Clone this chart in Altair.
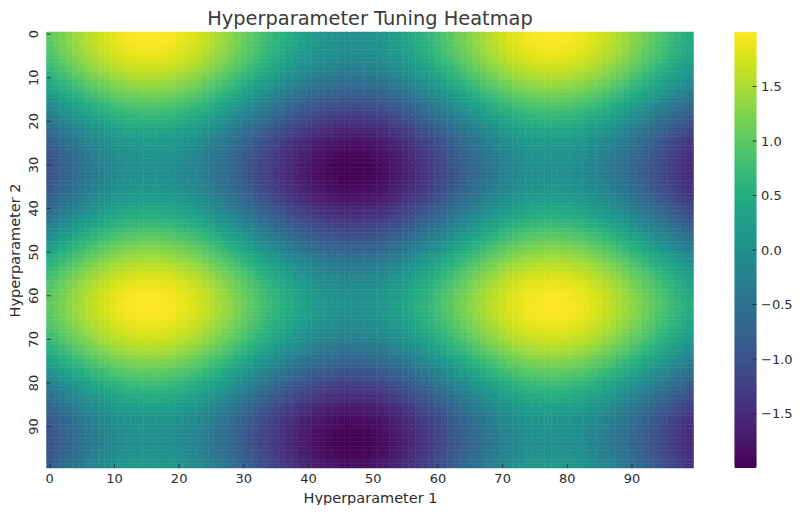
import altair as alt
import pandas as pd

alt.data_transformers.disable_max_rows()

# Estimated by eye: peaks/troughs, smooth wave shape hand-rounded between them.
column_profile = [
    0.00, 0.10, 0.20, 0.30, 0.39, 0.48, 0.57, 0.65, 0.72, 0.79,
    0.85, 0.90, 0.94, 0.97, 0.99, 1.00, 1.00, 0.99, 0.97, 0.94,
    0.90, 0.85, 0.80, 0.73, 0.66, 0.58, 0.49, 0.40, 0.31, 0.21,
    0.11, 0.01, -0.09, -0.19, -0.29, -0.38, -0.47, -0.56, -0.64, -0.72,
    -0.78, -0.84, -0.89, -0.93, -0.96, -0.99, -1.00, -1.00, -0.99, -0.97,
    -0.94, -0.91, -0.86, -0.80, -0.74, -0.66, -0.58, -0.50, -0.41, -0.32,
    -0.22, -0.12, -0.02, 0.08, 0.18, 0.28, 0.37, 0.47, 0.55, 0.63,
    0.71, 0.78, 0.84, 0.89, 0.93, 0.96, 0.98, 1.00, 1.00, 0.99,
    0.97, 0.94, 0.91, 0.86, 0.81, 0.74, 0.67, 0.59, 0.51, 0.42,
    0.32, 0.23, 0.13, 0.03, -0.07, -0.17, -0.27, -0.37, -0.46, -0.54,
]
row_profile = [
    1.00, 0.99, 0.98, 0.95, 0.92, 0.88, 0.82, 0.76, 0.69, 0.61,
    0.53, 0.44, 0.35, 0.26, 0.16, 0.05, -0.05, -0.15, -0.25, -0.34,
    -0.43, -0.52, -0.61, -0.68, -0.75, -0.82, -0.87, -0.92, -0.95, -0.98,
    -0.99, -1.00, -1.00, -0.98, -0.96, -0.92, -0.88, -0.83, -0.77, -0.69,
    -0.62, -0.54, -0.45, -0.36, -0.27, -0.16, -0.06, 0.04, 0.14, 0.24,
    0.33, 0.42, 0.51, 0.60, 0.67, 0.75, 0.81, 0.87, 0.91, 0.95,
    0.98, 0.99, 1.00, 1.00, 0.98, 0.96, 0.92, 0.88, 0.83, 0.77,
    0.71, 0.63, 0.55, 0.46, 0.37, 0.27, 0.17, 0.07, -0.03, -0.13,
    -0.23, -0.33, -0.42, -0.51, -0.59, -0.67, -0.74, -0.81, -0.86, -0.91,
    -0.94, -0.97, -0.99, -1.00, -1.00, -0.98, -0.96, -0.93, -0.89, -0.84,
]
axis_ticks = [0, 10, 20, 30, 40, 50, 60, 70, 80, 90]
bar_ticks = [-1.5, -1.0, -0.5, 0.0, 0.5, 1.0, 1.5]

INK = "#2b2b2b"
FONT = "DejaVu Sans"
LABEL_SIZE = 13
TITLE_SIZE = 14.5

cells = pd.DataFrame(
    [
        {"x": i, "y": j, "z": round(c + r, 2)}
        for i, c in enumerate(column_profile)
        for j, r in enumerate(row_profile)
    ]
)
zmin, zmax = float(cells.z.min()), float(cells.z.max())
color_scale = alt.Scale(scheme="viridis", domain=[zmin, zmax])

x_axis = alt.Axis(values=axis_ticks, labelAngle=0, tickSize=0, domain=False, grid=False,
                  title="Hyperparameter 1", labelPadding=4, titlePadding=6,
                  labelOverlap=False, labelFontSize=LABEL_SIZE, titleFontSize=TITLE_SIZE)
y_axis = alt.Axis(values=axis_ticks, labels=False, tickSize=0, domain=False, grid=False,
                  title="Hyperparameter 2", titlePadding=24, titleFontSize=TITLE_SIZE)
band = alt.Scale(paddingInner=0, paddingOuter=0)

heat = alt.Chart(cells).mark_rect(strokeWidth=0.5).encode(
    x=alt.X("x:O", scale=band, axis=x_axis),
    y=alt.Y("y:O", scale=band, axis=y_axis),
    color=alt.Color("z:Q", scale=color_scale, legend=None),
    stroke=alt.Color("z:Q", scale=color_scale, legend=None),
)
ticks_df = pd.DataFrame({"x": axis_ticks, "y": axis_ticks})
x_ticks = alt.Chart(ticks_df).mark_rule(color=INK, strokeWidth=0.9).encode(
    x=alt.X("x:O", bandPosition=0.5, scale=band, axis=x_axis), y=alt.value(432), y2=alt.value(436)
)
y_ticks = alt.Chart(ticks_df).mark_rule(color=INK, strokeWidth=0.9).encode(
    y=alt.Y("y:O", bandPosition=0.5, scale=band, axis=y_axis), x=alt.value(0), x2=alt.value(4)
)
y_labels = alt.Chart(ticks_df).mark_text(
    angle=270, align="center", baseline="middle", font=FONT, fontSize=LABEL_SIZE, color=INK
).encode(
    y=alt.Y("y:O", scale=band, axis=y_axis), x=alt.value(-13), text="y:O"
)
main = alt.layer(heat, x_ticks, y_ticks, y_labels).properties(
    width=647, height=436,
    title=alt.TitleParams("Hyperparameter Tuning Heatmap", fontSize=19.4, font=FONT,
                          color="#3a3a3a", fontWeight="normal", offset=1),
)

# Colour bar: its levels are the distinct values of the heatmap itself.
levels = pd.DataFrame({"v": sorted(cells.z.unique())})
levels["v2"] = levels.v + 0.03
bar_scale = alt.Scale(domain=[zmin, zmax], nice=False, zero=False)
bar_axis = alt.Axis(orient="right", values=bar_ticks, tickSize=0, domain=False, grid=False,
                    title=None, labelPadding=4, format=".1f", labelOverlap=False,
                    labelFontSize=LABEL_SIZE, labelExpr="replace(datum.label, '-', '\u2212')")
bar = alt.Chart(levels).mark_rect(strokeWidth=0, clip=True).encode(
    x=alt.value(0), x2=alt.value(22),
    y=alt.Y("v:Q", scale=bar_scale, axis=bar_axis), y2="v2:Q",
    color=alt.Color("v:Q", scale=color_scale, legend=None),
)
bar_tick_df = pd.DataFrame({"v": bar_ticks})
bar_marks = alt.Chart(bar_tick_df).mark_rule(color=INK, strokeWidth=0.9).encode(
    y=alt.Y("v:Q", scale=bar_scale, axis=bar_axis),
    x=alt.value(18), x2=alt.value(22),
)
colorbar = alt.layer(bar, bar_marks).properties(width=22, height=436)

chart = (
    alt.hconcat(main, colorbar, spacing=40)
    .resolve_scale(color="shared", y="independent", x="independent")
    .configure_view(stroke=None)
    .configure_axis(labelFont=FONT, titleFont=FONT,
                    labelColor=INK, titleColor=INK, titleFontWeight="normal")
    .properties(padding={"left": -1.5, "top": 0, "right": 0, "bottom": 0})
)
chart.save("out.html", embed_options={"renderer": "svg", "actions": False})
